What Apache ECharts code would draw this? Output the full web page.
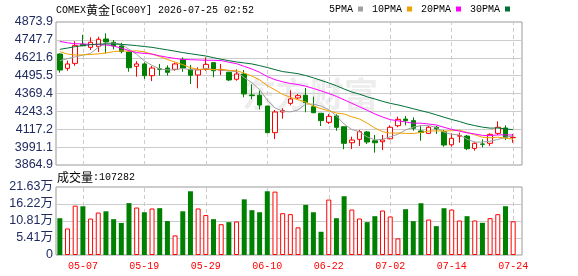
<!DOCTYPE html>
<html><head><meta charset="utf-8">
<script src="https://cdn.jsdelivr.net/npm/echarts@6/dist/echarts.min.js"></script>
<style>html,body{margin:0;padding:0;background:#fff}#c{width:578px;height:276px}</style>
</head><body><div id="c"></div>
<script>
const dates = ['05-04','05-05','05-06','05-07','05-08','05-11','05-12','05-13','05-14','05-15',
'05-18','05-19','05-20','05-21','05-22','05-25','05-26','05-27','05-28','05-29',
'06-01','06-02','06-03','06-04','06-05','06-08','06-09','06-10','06-11','06-12',
'06-15','06-16','06-17','06-18','06-19','06-22','06-23','06-24','06-25','06-26',
'06-29','06-30','07-01','07-02','07-03','07-06','07-07','07-08','07-09','07-10',
'07-13','07-14','07-15','07-16','07-17','07-20','07-21','07-22','07-23','07-24'];
const xTickLabels = ['05-07','05-19','05-29','06-10','06-22','07-02','07-14','07-24'];
const openP = [4648,4547,4582,4716,4695,4700,4754,4731,4705,4662,
4561,4578,4495,4544,4549,4540,4610,4540,4500,4540,
4587,4535,4519,4470,4507,4359,4357,4281,4093,4239,
4300,4338,4357,4276,4230,4166,4211,4135,4022,4046,
4098,4036,4029,4050,4142,4189,4178,4105,4088,4131,
4100,4008,4069,4069,3982,4013,4018,4088,4126,4058];
const closeP = [4535,4578,4709,4706,4731,4752,4733,4705,4665,4551,
4578,4495,4549,4540,4519,4578,4549,4498,4537,4575,
4530,4537,4465,4507,4366,4354,4288,4093,4239,4248,
4331,4354,4305,4234,4178,4208,4131,4018,4041,4100,
4027,4022,4041,4131,4187,4178,4124,4095,4131,4120,
4006,4053,4072,3980,4018,4011,4081,4131,4060,4060];
const lowP = [4516,4530,4565,4704,4676,4662,4653,4681,4653,4523,
4488,4472,4457,4495,4495,4530,4523,4436,4406,4530,
4484,4500,4457,4459,4343,4329,4258,4093,4048,4192,
4286,4329,4237,4230,4140,4154,4107,3976,3978,3999,
4013,3952,3970,4046,4131,4145,4107,4036,4084,4084,
3994,3994,4022,3970,3966,3990,3999,4077,4041,4022];
const highP = [4653,4601,4738,4784,4766,4770,4794,4747,4728,4665,
4597,4590,4563,4578,4568,4587,4624,4571,4554,4624,
4587,4578,4523,4540,4535,4434,4389,4281,4253,4265,
4392,4366,4408,4347,4230,4225,4223,4135,4065,4112,
4105,4077,4077,4145,4206,4211,4201,4140,4140,4140,
4112,4088,4093,4077,4029,4046,4088,4173,4145,4084];
const volume = [117000,84400,157000,155000,116000,135000,139000,114000,102000,165000,
151000,136000,148000,149000,108000,62300,139000,202700,148000,127000,
114000,98000,104500,106600,177000,142500,136000,202700,201600,133000,
130000,88000,159400,136000,73900,176300,117000,186900,144600,116100,
104500,123500,141500,122500,52800,145700,107700,164700,112900,91800,
148800,144600,109800,123500,109800,102400,117200,129800,155200,107282];
const ma5 = [4601,4615,4628,4640,4652,4695,4726,4725,4717,4681,
4646,4599,4568,4543,4536,4536,4547,4537,4536,4547,
4538,4535,4529,4523,4481,4446,4396,4322,4268,4244,
4240,4253,4295,4294,4280,4256,4211,4154,4115,4100,
4063,4042,4046,4064,4082,4112,4132,4143,4143,4130,
4096,4081,4077,4047,4026,4027,4033,4045,4061,4069];
const ma10 = [4665,4648,4641,4642,4645,4649,4655,4665,4670,4667,
4671,4663,4647,4630,4609,4591,4573,4552,4539,4542,
4537,4541,4533,4530,4514,4492,4466,4425,4395,4363,
4343,4325,4309,4281,4262,4248,4232,4225,4205,4190,
4160,4126,4100,4090,4091,4088,4087,4095,4104,4106,
4104,4107,4110,4095,4078,4061,4057,4061,4054,4047];
const ma20 = [4737,4727,4721,4719,4716,4714,4712,4704,4690,4672,
4658,4652,4648,4635,4625,4617,4610,4608,4606,4604,
4604,4602,4590,4580,4561,4542,4519,4489,4467,4452,
4440,4433,4421,4405,4388,4370,4349,4325,4300,4276,
4251,4225,4204,4185,4177,4168,4160,4160,4154,4147,
4131,4116,4104,4092,4084,4074,4072,4077,4078,4076];
const ma30 = [4681,4690,4700,4708,4714,4718,4719,4719,4716,4712,
4707,4701,4695,4686,4677,4668,4658,4650,4642,4634,
4622,4611,4601,4592,4585,4578,4566,4553,4538,4524,
4517,4509,4496,4480,4462,4444,4424,4401,4380,4365,
4346,4331,4314,4300,4289,4276,4262,4248,4235,4219,
4202,4186,4172,4155,4143,4132,4125,4126,4120,4114];
const priceTicks = ['3864.9','3991.1','4117.2','4243.3','4369.4','4495.5','4621.6','4747.7','4873.9'];
const volTicks = ['0','5.41万','10.81万','16.22万','21.63万'];
const priceMin = 3864.9, priceMax = 4873.9, volMax = 216300;

const UP = '#ff0000', DOWN = '#008000', GRID = '#cccccc', BORDER = '#999999';
const LBL = '#202c60';
const mono = "'Liberation Mono','DejaVu Sans Mono',monospace";
const cjk = "'Noto Sans CJK SC',sans-serif";
const tickFn = (i, v) => xTickLabels.indexOf(v) >= 0;

const chart = echarts.init(document.getElementById('c'));
const richStyles = {
  a: {fontFamily: mono, fontSize: 10, fontWeight: 'normal', color: '#000', lineHeight: 14},
  c: {fontFamily: cjk, fontSize: 12, fontWeight: 'normal', color: '#000', lineHeight: 14}
};
chart.setOption({
  animation: false,
  backgroundColor: '#fff',
  title: [
    {text: '{a|COMEX}{c|黄金}{a|[GC00Y] 2026-07-25 02:52}', left: 56, top: 3, padding: 0,
     textStyle: {fontWeight: 'normal', rich: richStyles}},
    {text: '{c|成交量}{a|:' + volume[volume.length - 1] + '}', left: 57, top: 170, padding: 0,
     textStyle: {fontWeight: 'normal', rich: richStyles}}
  ],
  legend: {
    data: ['5PMA', '10PMA', '20PMA', '30PMA'], right: 68, top: 4, padding: 0,
    align: 'right', icon: 'rect', itemWidth: 5, itemHeight: 5, itemGap: 9, selectedMode: false,
    textStyle: {fontFamily: mono, fontSize: 10, fontWeight: 'normal', color: '#000'}
  },
  graphic: [{
    type: 'text', left: 242, top: 77, silent: true, z: 0,
    style: {text: '东方财富', fontSize: 34, fontWeight: 'bold', fontFamily: cjk, fill: '#ededed'}
  }],
  grid: [
    {left: 56, top: 22, width: 466, height: 143, show: true, borderColor: BORDER, borderWidth: 1, backgroundColor: 'transparent'},
    {left: 56, top: 22, width: 461, height: 143},
    {left: 56, top: 187, width: 466, height: 68, show: true, borderColor: BORDER, borderWidth: 1, backgroundColor: 'transparent'},
    {left: 56, top: 187, width: 461, height: 68}
  ],
  xAxis: [
    {gridIndex: 0, type: 'value', min: 0, max: 1, show: false},
    {gridIndex: 1, type: 'category', data: dates, boundaryGap: true,
     axisLine: {show: false}, axisLabel: {show: false}, splitLine: {show: false},
     axisTick: {show: true, inside: true, length: 143, alignWithLabel: true, interval: tickFn,
                lineStyle: {color: GRID, type: [4, 3]}}},
    {gridIndex: 2, type: 'value', min: 0, max: 1, show: false},
    {gridIndex: 3, type: 'category', data: dates, boundaryGap: true,
     axisLine: {show: false}, splitLine: {show: false},
     axisTick: {show: true, inside: true, length: 68, alignWithLabel: true, interval: tickFn,
                lineStyle: {color: GRID, type: [4, 3]}},
     axisLabel: {interval: tickFn, color: UP, fontFamily: mono, fontSize: 10, margin: 6}}
  ],
  yAxis: [
    {gridIndex: 0, type: 'value', min: 0, max: 8, interval: 1,
     axisLine: {show: false}, axisTick: {show: false},
     axisLabel: {formatter: v => priceTicks[v], color: LBL, fontFamily: "'Liberation Sans',Arial,sans-serif", fontSize: 12.5, margin: 3},
     splitLine: {show: true, showMinLine: false, showMaxLine: false, lineStyle: {color: GRID, width: 1}}},
    {gridIndex: 1, type: 'value', min: priceMin, max: priceMax, show: false, splitLine: {show: false}},
    {gridIndex: 2, type: 'value', min: 0, max: 4, interval: 1,
     axisLine: {show: false}, axisTick: {show: false},
     axisLabel: {formatter: v => volTicks[v], color: LBL, fontFamily: "'Liberation Sans',Arial,'Noto Sans CJK SC',sans-serif", fontSize: 12.5, margin: 3},
     splitLine: {show: true, showMinLine: false, showMaxLine: false, lineStyle: {color: GRID, width: 1}}},
    {gridIndex: 3, type: 'value', min: 0, max: volMax, show: false, splitLine: {show: false}}
  ],
  series: [
    {type: 'candlestick', name: 'K', xAxisIndex: 1, yAxisIndex: 1, barWidth: 5, z: 2,
     data: dates.map((d, i) => [openP[i], closeP[i], lowP[i], highP[i]]),
     itemStyle: {color: '#ffffff', color0: DOWN, borderColor: UP, borderColor0: DOWN, borderWidth: 1}},
    {type: 'line', name: '5PMA', xAxisIndex: 1, yAxisIndex: 1, data: ma5, symbol: 'none', z: 3,
     lineStyle: {width: 1, color: '#a0a0a0'}, itemStyle: {color: '#a0a0a0'}},
    {type: 'line', name: '10PMA', xAxisIndex: 1, yAxisIndex: 1, data: ma10, symbol: 'none', z: 3,
     lineStyle: {width: 1, color: '#f2a000'}, itemStyle: {color: '#f2a000'}},
    {type: 'line', name: '20PMA', xAxisIndex: 1, yAxisIndex: 1, data: ma20, symbol: 'none', z: 3,
     lineStyle: {width: 1, color: '#ff00ff'}, itemStyle: {color: '#ff00ff'}},
    {type: 'line', name: '30PMA', xAxisIndex: 1, yAxisIndex: 1, data: ma30, symbol: 'none', z: 3,
     lineStyle: {width: 1, color: '#006f35'}, itemStyle: {color: '#006f35'}},
    {type: 'bar', name: 'VOL', xAxisIndex: 3, yAxisIndex: 3, barWidth: 5, z: 2,
     data: volume.map((v, i) => {
       const up = closeP[i] >= openP[i];
       return {value: v, itemStyle: up ? {color: '#ffffff', borderColor: UP, borderWidth: 1} : {color: DOWN}};
     })}
  ]
});
</script></body></html>
